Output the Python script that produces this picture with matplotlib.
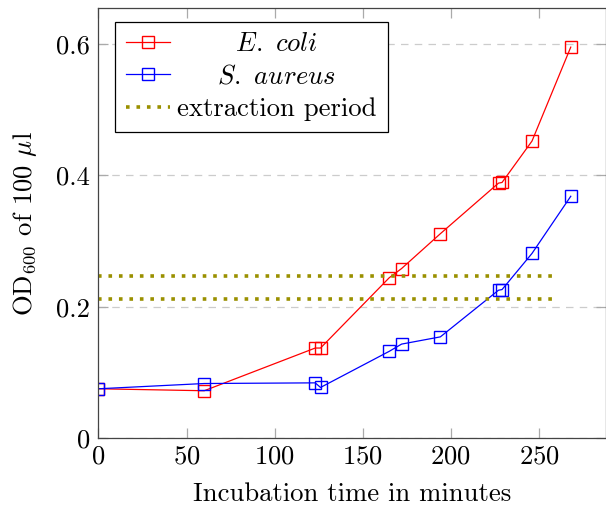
import matplotlib
matplotlib.use("Agg")
import matplotlib.pyplot as plt
from matplotlib.lines import Line2D

# Growth curves (OD600 of 100 µl)
ecoli_time = [0, 60, 123, 126, 165, 172, 194, 227, 229, 246, 268]
ecoli_od = [0.075, 0.072, 0.137, 0.137, 0.244, 0.258, 0.311, 0.388, 0.389, 0.452, 0.595]
saureus_time = [0, 60, 123, 126, 165, 172, 194, 227, 229, 246, 268]
saureus_od = [0.075, 0.083, 0.084, 0.077, 0.132, 0.143, 0.154, 0.225, 0.226, 0.281, 0.368]

# extraction period boundaries
extraction_od = [0.2114, 0.2464]
extraction_span = [0, 258]

x_ticks = [0, 50, 100, 150, 200, 250]
y_ticks = [0, 0.2, 0.4, 0.6]
y_tick_labels = ["0", "0.2", "0.4", "0.6"]

plt.rcParams["font.family"] = ["cmr10", "DejaVu Serif"]
plt.rcParams["mathtext.fontset"] = "cm"
plt.rcParams["axes.formatter.use_mathtext"] = True
fs = 19.2

fig = plt.figure(figsize=(6.06, 5.07), dpi=100)
ax = fig.add_axes([0.1625, 0.136, 0.8375, 0.8475])

ax.plot(ecoli_time, ecoli_od, color="red", lw=0.9, marker="s", ms=8.5,
        mfc="none", mew=1.0)
ax.plot(saureus_time, saureus_od, color="blue", lw=0.9, marker="s", ms=8.5,
        mfc="none", mew=1.0)
for od in extraction_od:
    ax.plot(extraction_span, [od, od], color="#9a9000", lw=2.6,
            linestyle=(0, (1, 1.9)), dash_capstyle="butt")

ax.set_xlim(0, 288)
ax.set_ylim(0, 0.654)
ax.set_xticks(x_ticks)
ax.set_yticks(y_ticks)
ax.set_yticklabels(y_tick_labels)
ax.yaxis.grid(True, color="#cccccc", linestyle=(0, (6, 5)), lw=0.9)
ax.set_axisbelow(True)

ax.tick_params(direction="in", length=7, width=0.9, color="#aaaaaa",
               labelsize=fs, top=True, right=True)
ax.tick_params(axis="x", pad=5)
ax.tick_params(axis="y", pad=6)
for s in ax.spines.values():
    s.set_color("#444444")
    s.set_linewidth(0.9)

ax.set_xlabel("Incubation time in minutes", fontsize=fs, labelpad=10)
ax.set_ylabel(r"OD$_{600}$ of 100 $\mu$l", fontsize=fs, labelpad=12)

# legend with centred labels like pgfplots
labels = [r"$\mathit{E.\ coli}$", r"$\mathit{S.\ aureus}$", "extraction period"]
handles = [
    Line2D([], [], color="red", lw=0.9, marker="s", ms=8.5, mfc="none", mew=1.0),
    Line2D([], [], color="blue", lw=0.9, marker="s", ms=8.5, mfc="none", mew=1.0),
    Line2D([], [], color="#9a9000", lw=2.6, linestyle=(0, (1, 1.9))),
]

renderer = fig.canvas.get_renderer()

def text_width(s):
    t = fig.text(0, 0, s, fontsize=fs)
    w = t.get_window_extent(renderer).width
    t.remove()
    return w

widths = [text_width(l) for l in labels]
unit = text_width(r"$\hspace{1}x$") - text_width(r"$x$")
maxw = max(widths)
padded = []
for l, w in zip(labels, widths):
    pad = (maxw - w) / 2 / unit
    if pad > 0.01 and l.startswith("$"):
        padded.append(r"$\hspace{%.3f}" % pad + l[1:])
    else:
        padded.append(l)

leg = ax.legend(handles, padded, loc="upper left",
                bbox_to_anchor=(0.0325, 0.969), borderaxespad=0,
                fontsize=fs, fancybox=False, framealpha=1,
                edgecolor="black", handlelength=1.68, handletextpad=0.26,
                labelspacing=0.32, borderpad=0.4)
leg.get_frame().set_linewidth(0.9)

fig.savefig("out.png", dpi=100)
